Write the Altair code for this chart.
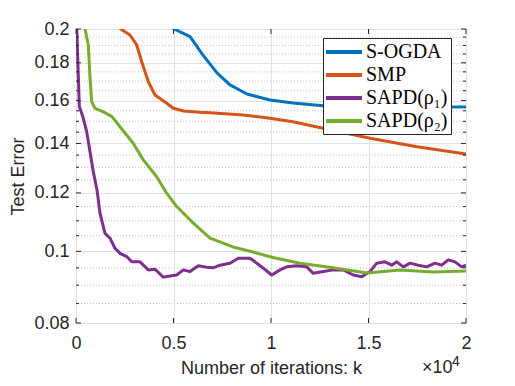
import altair as alt
import pandas as pd

# ---------------- data ----------------
series_names = ["S-OGDA", "SMP", "SAPD(ρ₁)", "SAPD(ρ₂)"]
series_colors = ["#0072BD", "#D95319", "#7E2F8E", "#77AC30"]

sogda_k = [4950, 5030, 5846, 6513, 7231, 7897, 8769, 9949, 11128, 12667, 14500, 16500, 18500, 20000]
sogda_err = [0.2025, 0.2000, 0.1953, 0.1844, 0.1744, 0.1680, 0.1633, 0.1603, 0.1588, 0.1575,
             0.1572, 0.1570, 0.1569, 0.1568]

smp_k = [2200, 2292, 2769, 3113, 3369, 3708, 4051, 4651, 4990, 5503, 6359, 6872, 8564, 9949,
         11128, 12667, 15077, 17487, 20000]
smp_err = [0.2025, 0.2000, 0.1963, 0.1903, 0.1806, 0.1697, 0.1628, 0.1587, 0.1562, 0.1549,
           0.1543, 0.1541, 0.1530, 0.1514, 0.1498, 0.1468, 0.1423, 0.1386, 0.1355]

sapd1_k = [0, 40, 118, 170, 205, 374, 549, 718, 887, 1077, 1231, 1487, 1744, 2000, 2256, 2600,
           2856, 3282, 3708, 4051, 4477, 4821, 5164, 5503, 5846, 6272, 6703, 7026, 7385, 7897,
           8323, 8923, 9179, 9605, 10036, 10462, 10805, 11318, 11831, 12169, 12682, 13195,
           13708, 14220, 14651, 15077, 15421, 15846, 16190, 16446, 16785, 17128, 17554, 17985,
           18410, 18754, 19092, 19436, 19779, 20000]
sapd1_err = [0.2050, 0.2000, 0.1733, 0.1570, 0.1562, 0.1514, 0.1452, 0.1364, 0.1282, 0.1211,
             0.1126, 0.1058, 0.1042, 0.1010, 0.0994, 0.0984, 0.0968, 0.0968, 0.0944, 0.0946,
             0.0923, 0.0926, 0.0929, 0.0944, 0.0939, 0.0956, 0.0952, 0.0950, 0.0958, 0.0964,
             0.0979, 0.0979, 0.0968, 0.0949, 0.0929, 0.0944, 0.0953, 0.0956, 0.0953, 0.0934,
             0.0939, 0.0944, 0.0944, 0.0929, 0.0924, 0.0939, 0.0964, 0.0968, 0.0958, 0.0968,
             0.0953, 0.0964, 0.0958, 0.0953, 0.0964, 0.0958, 0.0974, 0.0968, 0.0953, 0.0958]

sapd2_k = [350, 462, 631, 718, 805, 974, 1385, 1846, 2256, 2923, 3451, 4138, 4651, 5164, 6015,
           6872, 8051, 9077, 10103, 11487, 13180, 14923, 16615, 18307, 20000]
sapd2_err = [0.2035, 0.2000, 0.1903, 0.1720, 0.1594, 0.1562, 0.1546, 0.1522, 0.1475, 0.1402,
             0.1330, 0.1262, 0.1199, 0.1150, 0.1092, 0.1042, 0.1014, 0.0998, 0.0981, 0.0964,
             0.0950, 0.0935, 0.0944, 0.0938, 0.0941]

x_major = [0, 5000, 10000, 15000, 20000]
y_major = [0.08, 0.1, 0.12, 0.14, 0.16, 0.18, 0.2]
y_minor = [0.085, 0.09, 0.095, 0.105, 0.11, 0.115, 0.125, 0.13, 0.135, 0.145, 0.15, 0.155,
           0.165, 0.17, 0.175, 0.185, 0.19, 0.195]

# ---------------- build tables ----------------
frames = []
for name, ks, es in zip(series_names,
                        [sogda_k, smp_k, sapd1_k, sapd2_k],
                        [sogda_err, smp_err, sapd1_err, sapd2_err]):
    frames.append(pd.DataFrame({"k": ks, "err": es, "series": name}))
lines_df = pd.concat(frames, ignore_index=True)

W, H = 390, 294
AX = "#262626"
SANS = "Liberation Sans"

xscale = alt.Scale(domain=[0, 20000], nice=False, zero=False)
yscale = alt.Scale(type="log", domain=[0.08, 0.2], nice=False)

xaxis = alt.Axis(values=x_major, labelExpr="format(datum.value / 10000, '~g')",
                 title="Number of iterations: k", titleY=50, labelFlush=False,
                 titleBaseline="alphabetic", labelPadding=11)
yaxis = alt.Axis(values=y_major, format=".2~f", title="Test Error", labelFlush=False,
                 titleX=-53, titleBaseline="alphabetic", labelPadding=7)

minor_df = pd.DataFrame({"v": y_minor})
ymaj_df = pd.DataFrame({"v": y_major})
xmaj_df = pd.DataFrame({"v": x_major})

minor_grid = alt.Chart(minor_df).mark_rule(
    color="#c4c4c4", strokeDash=[1, 2], strokeWidth=1
).encode(y=alt.Y("v:Q", scale=yscale, axis=yaxis))

lines = alt.Chart(lines_df).mark_line(clip=True, strokeWidth=3, strokeJoin="round").encode(
    x=alt.X("k:Q", scale=xscale, axis=xaxis),
    y=alt.Y("err:Q", scale=yscale, axis=yaxis),
    color=alt.Color("series:N", sort=series_names,
                    scale=alt.Scale(domain=series_names, range=series_colors),
                    legend=alt.Legend(orient="none", legendX=247, legendY=9, title=None,
                                      symbolType="M-2,0H2", symbolSize=324,
                                      symbolStrokeWidth=4, symbolOffset=7,
                                      labelFont="Liberation Serif", labelFontSize=20,
                                      labelOffset=11, labelColor="black", labelLimit=0,
                                      padding=3, rowPadding=2, fillColor="white",
                                      strokeColor=AX, cornerRadius=0)),
)

def yticks(df, x0, x1):
    return alt.Chart(df).mark_rule(color=AX, strokeWidth=1).encode(
        y=alt.Y("v:Q", scale=yscale, axis=yaxis), x=alt.value(x0), x2=alt.value(x1))

def xticks(y0, y1):
    return alt.Chart(xmaj_df).mark_rule(color=AX, strokeWidth=1).encode(
        x=alt.X("v:Q", scale=xscale, axis=xaxis), y=alt.value(y0), y2=alt.value(y1))

ticks = [
    yticks(ymaj_df, 0, 5), yticks(ymaj_df, W - 5, W),
    yticks(minor_df, 0, 3), yticks(minor_df, W - 3, W),
    xticks(H, H - 5), xticks(0, 5),
]

exp_base = alt.Chart(pd.DataFrame({"t": ["×10"]})).mark_text(
    font=SANS, fontSize=18, color=AX, align="left", baseline="alphabetic"
).encode(text="t:N", x=alt.value(346), y=alt.value(344))
exp_sup = alt.Chart(pd.DataFrame({"t": ["4"]})).mark_text(
    font=SANS, fontSize=14, color=AX, align="left", baseline="alphabetic"
).encode(text="t:N", x=alt.value(376), y=alt.value(337))

chart = alt.layer(minor_grid, lines, *ticks, exp_base, exp_sup).properties(
    width=W, height=H,
    autosize=alt.AutoSizeParams(type="none"),
    padding={"left": 68, "top": 21, "right": 41, "bottom": 55},
    background="white",
).configure_view(
    stroke=AX, strokeWidth=1
).configure_axis(
    labelFont=SANS, labelFontSize=18, labelColor=AX,
    titleFont=SANS, titleFontSize=18, titleColor=AX, titleFontWeight="normal",
    grid=True, gridColor="#e2e2e2", gridWidth=1, ticks=False, domain=False,
)

chart.save("out.html", embed_options={"renderer": "svg", "actions": False})
